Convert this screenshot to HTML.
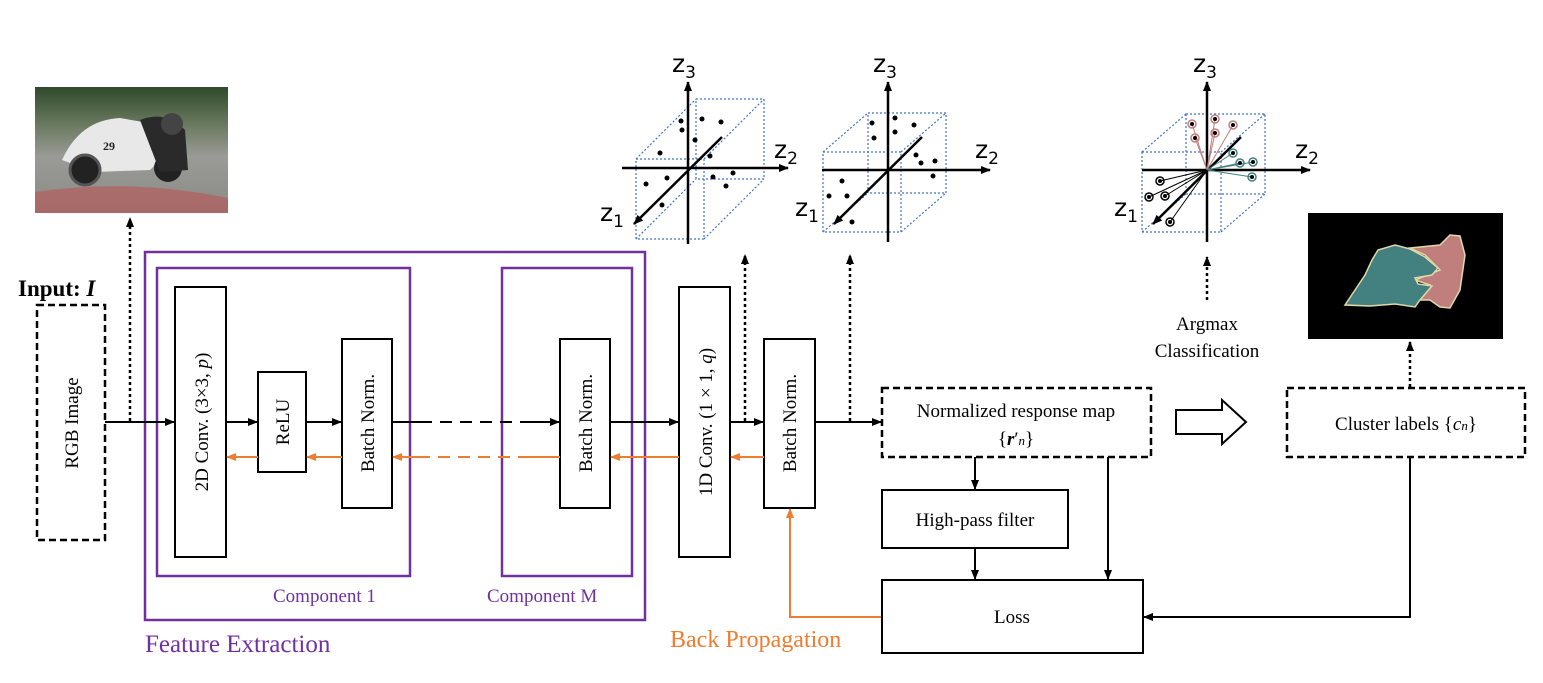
<!DOCTYPE html>
<html><head><style>body{margin:0;background:#fff}svg{display:block}text{font-family:"Liberation Serif",serif}</style></head><body>
<svg width="1543" height="683" viewBox="0 0 1543 683" xmlns="http://www.w3.org/2000/svg">
<defs>
<marker id="a" markerWidth="10" markerHeight="10" refX="9" refY="5" orient="auto" markerUnits="userSpaceOnUse"><path d="M0,1 L10,5 L0,9 z" fill="#000"/></marker>
<marker id="o" markerWidth="10" markerHeight="10" refX="9" refY="5" orient="auto" markerUnits="userSpaceOnUse"><path d="M0,1 L10,5 L0,9 z" fill="#ed7d31"/></marker>
<linearGradient id="ph" x1="0" y1="0" x2="0" y2="1"><stop offset="0" stop-color="#2f4a2a"/><stop offset="0.3" stop-color="#6a7a60"/><stop offset="0.55" stop-color="#9a9a96"/><stop offset="1" stop-color="#8a8a86"/></linearGradient>
</defs>
<!-- photo -->
<rect x="35" y="87" width="193" height="126" fill="url(#ph)"/>
<path d="M35,192 Q130,178 228,198 L228,213 L35,213z" fill="#c05050" opacity="0.55"/>
<path d="M62,160 Q80,120 120,118 L160,125 L170,150 L150,170 L95,172 z" fill="#e8e8e8"/>
<circle cx="85" cy="170" r="15" fill="#222" stroke="#555" stroke-width="3"/><circle cx="168" cy="168" r="14" fill="#222"/>
<path d="M140,120 Q165,110 185,130 L188,170 L160,172 z" fill="#2a2a2a"/><circle cx="172" cy="124" r="11" fill="#444"/>
<text x="103" y="150" font-size="12" font-weight="bold" fill="#222">29</text>
<!-- input -->
<text x="18" y="296" font-size="23" font-weight="bold">Input: <tspan font-style="italic">I</tspan></text>
<rect x="37" y="305" width="68" height="235" fill="none" stroke="#000" stroke-width="2.5" stroke-dasharray="7,4"/>
<text transform="translate(78,423) rotate(-90)" text-anchor="middle" font-size="19">RGB Image</text>
<line x1="130" y1="421" x2="130" y2="218" stroke="#000" stroke-width="2.5" stroke-dasharray="3,3" marker-end="url(#a)"/>
<!-- feature extraction -->
<rect x="145" y="252" width="500" height="368" fill="none" stroke="#7030a0" stroke-width="2.5"/>
<rect x="157" y="268" width="253" height="308" fill="none" stroke="#7030a0" stroke-width="2.5"/>
<rect x="502" y="268" width="130" height="308" fill="none" stroke="#7030a0" stroke-width="2.5"/>
<text x="273" y="602" font-size="19" fill="#7030a0">Component 1</text>
<text x="487" y="602" font-size="19" fill="#7030a0">Component M</text>
<text x="145" y="652" font-size="25" fill="#7030a0">Feature Extraction</text>
<g fill="#fff" stroke="#000" stroke-width="2">
<rect x="175" y="287" width="51" height="270"/>
<rect x="258" y="372" width="48" height="100"/>
<rect x="342" y="339" width="50" height="169"/>
<rect x="560" y="339" width="50" height="169"/>
<rect x="679" y="287" width="51" height="270"/>
<rect x="764" y="339" width="51" height="169"/>
</g>
<g font-size="19" text-anchor="middle">
<text transform="translate(208,422) rotate(-90)">2D Conv. (3×3, <tspan font-style="italic">p</tspan>)</text>
<text transform="translate(289,422) rotate(-90)">ReLU</text>
<text transform="translate(374,423) rotate(-90)">Batch Norm.</text>
<text transform="translate(592,423) rotate(-90)">Batch Norm.</text>
<text transform="translate(712,422) rotate(-90)">1D Conv. (1 × 1, <tspan font-style="italic">q</tspan>)</text>
<text transform="translate(796,423) rotate(-90)">Batch Norm.</text>
</g>
<!-- forward arrows -->
<g stroke="#000" stroke-width="2" fill="none">
<line x1="105" y1="422" x2="174" y2="422" marker-end="url(#a)"/>
<line x1="226" y1="422" x2="257" y2="422" marker-end="url(#a)"/>
<line x1="306" y1="422" x2="341" y2="422" marker-end="url(#a)"/>
<line x1="392" y1="422" x2="420" y2="422"/>
<line x1="420" y1="422" x2="530" y2="422" stroke-dasharray="12,8"/>
<line x1="530" y1="422" x2="559" y2="422" marker-end="url(#a)"/>
<line x1="610" y1="422" x2="678" y2="422" marker-end="url(#a)"/>
<line x1="730" y1="422" x2="763" y2="422" marker-end="url(#a)"/>
<line x1="815" y1="422" x2="881" y2="422" marker-end="url(#a)"/>
</g>
<g stroke="#000" stroke-width="2.5" stroke-dasharray="3,3" fill="none">
<line x1="745" y1="421" x2="745" y2="255" marker-end="url(#a)"/>
<line x1="850" y1="421" x2="850" y2="255" marker-end="url(#a)"/>
<line x1="1207" y1="300" x2="1207" y2="257" marker-end="url(#a)"/>
<line x1="1410" y1="387" x2="1410" y2="342" marker-end="url(#a)"/>
</g>
<!-- backward arrows -->
<g stroke="#ed7d31" stroke-width="2" fill="none">
<line x1="764" y1="457" x2="731" y2="457" marker-end="url(#o)"/>
<line x1="679" y1="457" x2="611" y2="457" marker-end="url(#o)"/>
<line x1="560" y1="457" x2="530" y2="457"/>
<line x1="530" y1="457" x2="420" y2="457" stroke-dasharray="12,8"/>
<line x1="420" y1="457" x2="393" y2="457" marker-end="url(#o)"/>
<line x1="342" y1="457" x2="307" y2="457" marker-end="url(#o)"/>
<line x1="258" y1="457" x2="227" y2="457" marker-end="url(#o)"/>
<polyline points="882,617 790,617 790,509" marker-end="url(#o)"/>
</g>
<text x="670" y="647" font-size="24" fill="#ed7d31">Back Propagation</text>
<!-- right boxes -->
<rect x="882" y="388" width="269" height="69" fill="none" stroke="#000" stroke-width="2.5" stroke-dasharray="7,4"/>
<text x="1016" y="417" font-size="19" text-anchor="middle">Normalized response map</text>
<text x="1016" y="445" font-size="19" text-anchor="middle">{<tspan font-weight="bold" font-style="italic">r</tspan>′<tspan font-size="13" font-style="italic">n</tspan>}</text>
<rect x="882" y="490" width="186" height="58" fill="none" stroke="#000" stroke-width="2"/>
<text x="975" y="526" font-size="19" text-anchor="middle">High-pass filter</text>
<rect x="882" y="580" width="261" height="73" fill="none" stroke="#000" stroke-width="2"/>
<text x="1012" y="623" font-size="19" text-anchor="middle">Loss</text>
<rect x="1287" y="388" width="238" height="69" fill="none" stroke="#000" stroke-width="2.5" stroke-dasharray="7,4"/>
<text x="1406" y="430" font-size="19" text-anchor="middle">Cluster labels {<tspan font-style="italic">c</tspan><tspan font-size="13" font-style="italic">n</tspan>}</text>
<g stroke="#000" stroke-width="2" fill="none">
<line x1="975" y1="457" x2="975" y2="489" marker-end="url(#a)"/>
<line x1="1108" y1="457" x2="1108" y2="579" marker-end="url(#a)"/>
<line x1="975" y1="548" x2="975" y2="579" marker-end="url(#a)"/>
<polyline points="1410,457 1410,617 1144,617" marker-end="url(#a)"/>
</g>
<path d="M1176,410 L1222,410 L1222,400 L1246,422 L1222,444 L1222,434 L1176,434 z" fill="#fff" stroke="#000" stroke-width="2"/>
<text x="1207" y="330" font-size="19" text-anchor="middle">Argmax</text>
<text x="1207" y="357" font-size="19" text-anchor="middle">Classification</text>
<!-- seg image -->
<rect x="1308" y="213" width="195" height="126" fill="#000"/>
<path d="M1410,248 L1440,245 L1450,235 L1460,236 L1465,255 L1460,290 L1450,308 L1440,307 L1430,300 L1420,300 L1430,285 L1415,280 L1440,270 L1425,255 z" fill="#c07f7c" stroke="#e0d8a8" stroke-width="1.5"/>
<path d="M1345,305 L1365,275 L1372,260 L1378,250 L1395,245 L1410,249 L1425,257 L1438,268 L1432,275 L1415,278 L1418,284 L1432,286 L1420,300 L1415,307 L1395,304 L1370,306 z" fill="#438180" stroke="#e0d8a8" stroke-width="1.5"/>
<!-- 3D plots -->
<g fill="none">
<g stroke="#4472c4" stroke-width="1.2" stroke-dasharray="2,2">
<rect x="636" y="159" width="68" height="80"/><rect x="696" y="99" width="68" height="80"/>
<line x1="636" y1="159" x2="696" y2="99"/><line x1="704" y1="159" x2="764" y2="99"/><line x1="636" y1="239" x2="696" y2="179"/><line x1="704" y1="239" x2="764" y2="179"/>
</g>
<g stroke="#000" stroke-width="2.5"><line x1="688" y1="244" x2="688" y2="82" marker-end="url(#a)"/><line x1="622" y1="168" x2="788" y2="168" marker-end="url(#a)"/><line x1="722" y1="137" x2="634" y2="224" marker-end="url(#a)"/></g>
<g fill="#000"><circle cx="681" cy="121" r="2.5"/><circle cx="682" cy="130" r="2.5"/><circle cx="702" cy="119" r="2.5"/><circle cx="721" cy="122" r="2.5"/><circle cx="695" cy="140" r="2.5"/><circle cx="660" cy="153" r="2.5"/><circle cx="710" cy="156" r="2.5"/><circle cx="646" cy="184" r="2.5"/><circle cx="667" cy="178" r="2.5"/><circle cx="733" cy="173" r="2.5"/><circle cx="713" cy="177" r="2.5"/><circle cx="726" cy="186" r="2.5"/><circle cx="662" cy="205" r="2.5"/></g>
</g>
<g fill="none">
<g stroke="#4472c4" stroke-width="1.2" stroke-dasharray="2,2">
<rect x="823" y="152" width="78" height="80"/><rect x="868" y="113" width="78" height="80"/>
<line x1="823" y1="152" x2="868" y2="113"/><line x1="901" y1="152" x2="946" y2="113"/><line x1="823" y1="232" x2="868" y2="193"/><line x1="901" y1="232" x2="946" y2="193"/>
</g>
<g stroke="#000" stroke-width="2.5"><line x1="888" y1="242" x2="888" y2="82" marker-end="url(#a)"/><line x1="822" y1="170" x2="990" y2="170" marker-end="url(#a)"/><line x1="922" y1="137" x2="834" y2="224" marker-end="url(#a)"/></g>
<g fill="#000"><circle cx="872" cy="123" r="2.5"/><circle cx="874" cy="138" r="2.5"/><circle cx="895" cy="118" r="2.5"/><circle cx="895" cy="132" r="2.5"/><circle cx="914" cy="125" r="2.5"/><circle cx="916" cy="155" r="2.5"/><circle cx="921" cy="163" r="2.5"/><circle cx="935" cy="161" r="2.5"/><circle cx="933" cy="176" r="2.5"/><circle cx="842" cy="181" r="2.5"/><circle cx="829" cy="196" r="2.5"/><circle cx="847" cy="196" r="2.5"/><circle cx="852" cy="222" r="2.5"/></g>
</g>
<g fill="none">
<g stroke="#4472c4" stroke-width="1.2" stroke-dasharray="2,2">
<rect x="1142" y="152" width="79" height="80"/><rect x="1186" y="114" width="79" height="80"/>
<line x1="1142" y1="152" x2="1186" y2="114"/><line x1="1221" y1="152" x2="1265" y2="114"/><line x1="1142" y1="232" x2="1186" y2="194"/><line x1="1221" y1="232" x2="1265" y2="194"/>
</g>
<g stroke="#000" stroke-width="2.5"><line x1="1207" y1="242" x2="1207" y2="82" marker-end="url(#a)"/><line x1="1142" y1="170" x2="1310" y2="170" marker-end="url(#a)"/><line x1="1241" y1="137" x2="1153" y2="224" marker-end="url(#a)"/></g>
<g stroke="#c07f7c" stroke-width="1"><line x1="1207" y1="170" x2="1192" y2="124"/><line x1="1207" y1="170" x2="1195" y2="138"/><line x1="1207" y1="170" x2="1215" y2="119"/><line x1="1207" y1="170" x2="1215" y2="133"/><line x1="1207" y1="170" x2="1233" y2="125"/></g>
<g stroke="#438180" stroke-width="1"><line x1="1207" y1="170" x2="1233" y2="153"/><line x1="1207" y1="170" x2="1240" y2="163"/><line x1="1207" y1="170" x2="1253" y2="162"/><line x1="1207" y1="170" x2="1252" y2="177"/></g>
<g stroke="#000" stroke-width="1"><line x1="1207" y1="170" x2="1160" y2="181"/><line x1="1207" y1="170" x2="1149" y2="197"/><line x1="1207" y1="170" x2="1165" y2="196"/><line x1="1207" y1="170" x2="1170" y2="222"/></g>
<g stroke-width="1.5"><g stroke="#c07f7c"><circle cx="1192" cy="124" r="4"/><circle cx="1195" cy="138" r="4"/><circle cx="1215" cy="119" r="4"/><circle cx="1215" cy="133" r="4"/><circle cx="1233" cy="125" r="4"/></g><g stroke="#438180"><circle cx="1233" cy="153" r="4"/><circle cx="1240" cy="163" r="4"/><circle cx="1253" cy="162" r="4"/><circle cx="1252" cy="177" r="4"/></g><g stroke="#000"><circle cx="1160" cy="181" r="4"/><circle cx="1149" cy="197" r="4"/><circle cx="1165" cy="196" r="4"/><circle cx="1170" cy="222" r="4"/></g></g>
<g fill="#000"><circle cx="1192" cy="124" r="2"/><circle cx="1195" cy="138" r="2"/><circle cx="1215" cy="119" r="2"/><circle cx="1215" cy="133" r="2"/><circle cx="1233" cy="125" r="2"/><circle cx="1233" cy="153" r="2"/><circle cx="1240" cy="163" r="2"/><circle cx="1253" cy="162" r="2"/><circle cx="1252" cy="177" r="2"/><circle cx="1160" cy="181" r="2"/><circle cx="1149" cy="197" r="2"/><circle cx="1165" cy="196" r="2"/><circle cx="1170" cy="222" r="2"/></g>
</g>
<g font-size="25" style="font-family:'DejaVu Sans',sans-serif">
<text x="672" y="72" style="font-family:'DejaVu Sans',sans-serif">z<tspan font-size="17" dy="6">3</tspan></text>
<text x="774" y="158" style="font-family:'DejaVu Sans',sans-serif">z<tspan font-size="17" dy="6">2</tspan></text>
<text x="600" y="221" style="font-family:'DejaVu Sans',sans-serif">z<tspan font-size="17" dy="6">1</tspan></text>
<text x="873" y="72" style="font-family:'DejaVu Sans',sans-serif">z<tspan font-size="17" dy="6">3</tspan></text>
<text x="975" y="158" style="font-family:'DejaVu Sans',sans-serif">z<tspan font-size="17" dy="6">2</tspan></text>
<text x="795" y="216" style="font-family:'DejaVu Sans',sans-serif">z<tspan font-size="17" dy="6">1</tspan></text>
<text x="1193" y="72" style="font-family:'DejaVu Sans',sans-serif">z<tspan font-size="17" dy="6">3</tspan></text>
<text x="1295" y="158" style="font-family:'DejaVu Sans',sans-serif">z<tspan font-size="17" dy="6">2</tspan></text>
<text x="1114" y="216" style="font-family:'DejaVu Sans',sans-serif">z<tspan font-size="17" dy="6">1</tspan></text>
</g>
</svg>
</body></html>
